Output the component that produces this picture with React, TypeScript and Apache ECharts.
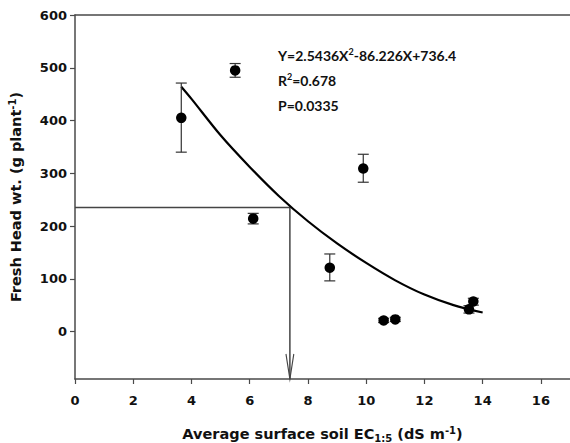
import React, { useEffect, useRef } from 'react';
import * as echarts from 'echarts';

const ecX = [3.65, 5.5, 6.12, 8.75, 9.9, 10.6, 11.0, 13.53, 13.68];
const headWt = [405, 495, 214, 121, 309, 21, 23, 42, 57];
const errLow = [340, 482, 204, 96, 283, 17, 19, 35, 50];
const errHigh = [471, 508, 224, 147, 336, 25, 27, 49, 63];

const fitX = [3.65, 4, 5, 6, 7, 8, 9, 10, 11, 12, 13, 14];
const fitY = [464, 441, 372, 312, 257, 209, 167, 130, 97, 70, 50, 36];

const refX = [0, 7.38, 7.38];
const refY = [235, 235, -90];

const xTicks = [0, 2, 4, 6, 8, 10, 12, 14, 16];
const yTicks = [0, 100, 200, 300, 400, 500, 600];

const annLines = ['Y=2.5436X{sup|2}-86.226X+736.4', 'R{sup|2}=0.678', 'P=0.0335'];

export default function App() {
  const ref = useRef<HTMLDivElement>(null);
  useEffect(() => {
    if (!ref.current) return;
    const chart = echarts.init(ref.current, null, { renderer: 'svg' });
    const tickFont = { fontFamily: 'DejaVu Sans', fontWeight: 'bold' as const, fontSize: 13, color: '#111' };
    const axisColor = '#4a4a4a';
    const nameRich = {
      sub: { fontSize: 10, fontFamily: 'DejaVu Sans', fontWeight: 'bold' as const, color: '#111', verticalAlign: 'bottom' as const, lineHeight: 10 },
      sup: { fontSize: 10, fontFamily: 'DejaVu Sans', fontWeight: 'bold' as const, color: '#111', verticalAlign: 'top' as const, lineHeight: 10 },
    };
    const option: any = {
      animation: false,
      backgroundColor: '#fff',
      grid: { left: 75, right: 0, top: 15, bottom: 64, containLabel: false, outerBoundsMode: 'none' },
      xAxis: [
        {
          type: 'value',
          min: 0,
          max: 17,
          axisLine: { show: true, onZero: false, lineStyle: { color: axisColor, width: 1.5 } },
          axisTick: { show: true, length: 5, customValues: xTicks, lineStyle: { color: axisColor, width: 1.2 } },
          splitLine: { show: false },
          axisLabel: {
            ...tickFont,
            margin: 15,
            customValues: xTicks,
          },
          name: 'Average surface soil EC{sub|1:5} (dS m{sup|-1})',
          nameLocation: 'middle',
          nameGap: 46,
          nameTextStyle: {
            fontFamily: 'DejaVu Sans',
            fontWeight: 'bold',
            fontSize: 14.5,
            color: '#111',
            lineHeight: 18,
            rich: nameRich,
          },
        },
        {
          type: 'value',
          position: 'top',
          min: 0,
          max: 17,
          axisLine: { show: true, onZero: false, lineStyle: { color: axisColor, width: 1.5 } },
          axisTick: { show: false },
          axisLabel: { show: false },
          splitLine: { show: false },
        },
      ],
      yAxis: {
        type: 'value',
        min: -90,
        max: 600,
        axisLine: { show: true, onZero: false, lineStyle: { color: axisColor, width: 1.5 } },
        axisTick: { show: true, length: 5, customValues: yTicks, lineStyle: { color: axisColor, width: 1.2 } },
        splitLine: { show: false },
        axisLabel: {
          ...tickFont,
          margin: 8,
          customValues: yTicks,
        },
        name: 'Fresh Head wt. (g plant{sup|-1})',
        nameLocation: 'middle',
        nameGap: 50,
        nameTextStyle: {
          fontFamily: 'DejaVu Sans',
          fontWeight: 'bold',
          fontSize: 14.5,
          color: '#111',
          lineHeight: 18,
          rich: nameRich,
        },
      },
      graphic: annLines.map((t, i) => ({
        type: 'text',
        left: 278,
        top: 47 + i * 25,
        style: {
          text: t,
          fontFamily: 'Lato',
          fontWeight: 'bold',
          fontSize: 14,
          fill: '#111',
          lineHeight: 16,
          rich: {
            sup: { fontFamily: 'Lato', fontWeight: 'bold', fontSize: 9, fill: '#111', verticalAlign: 'top', lineHeight: 9 },
          },
        },
      })),
      series: [
        {
          type: 'line',
          data: refX.map((x, i) => [x, refY[i]]),
          lineStyle: { color: '#444', width: 1.5 },
          showSymbol: true,
          symbol: (_v: any, p: any) => (p.dataIndex === refX.length - 1 ? 'path://M0,0 L7,25 L14,0' : 'none'),
          symbolSize: [14, 25],
          symbolOffset: [0, -12.5],
          symbolKeepAspect: true,
          itemStyle: { color: 'none', borderColor: '#444', borderWidth: 1.5 },
          silent: true,
          z: 1,
        },
        {
          type: 'line',
          data: fitX.map((x, i) => [x, fitY[i]]),
          smooth: 0.3,
          showSymbol: false,
          lineStyle: { color: '#000', width: 2.2 },
          z: 2,
        },
        {
          type: 'custom',
          data: ecX.map((x, i) => [x, errLow[i], errHigh[i]]),
          encode: { x: 0, y: [1, 2] },
          renderItem: (_params: any, api: any) => {
            const x = api.value(0);
            const lo = api.coord([x, api.value(1)]);
            const hi = api.coord([x, api.value(2)]);
            const hw = 5.5;
            const style = { stroke: '#333', lineWidth: 1.2 };
            return {
              type: 'group',
              children: [
                { type: 'line', shape: { x1: lo[0], y1: lo[1], x2: hi[0], y2: hi[1] }, style },
                { type: 'line', shape: { x1: lo[0] - hw, y1: lo[1], x2: lo[0] + hw, y2: lo[1] }, style },
                { type: 'line', shape: { x1: hi[0] - hw, y1: hi[1], x2: hi[0] + hw, y2: hi[1] }, style },
              ],
            };
          },
          z: 3,
        },
        {
          type: 'scatter',
          data: ecX.map((x, i) => [x, headWt[i]]),
          symbol: 'circle',
          symbolSize: 10.5,
          itemStyle: { color: '#000', opacity: 1 },
          z: 4,
        },
      ],
    };
    chart.setOption(option);
    return () => chart.dispose();
  }, []);
  return (
    <div
      ref={ref}
      style={{ position: 'fixed', left: 0, top: 0, width: 570, height: 443, background: '#fff' }}
    />
  );
}
